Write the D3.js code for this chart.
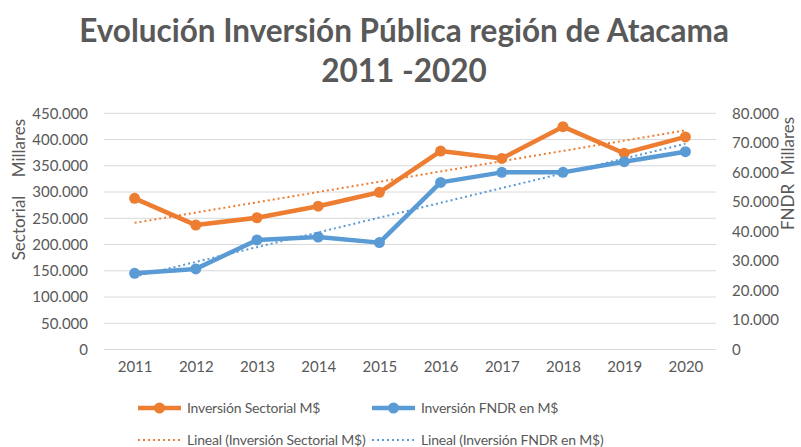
<!DOCTYPE html>
<html>
<head>
<meta charset="utf-8">
<script src="https://cdn.jsdelivr.net/npm/d3@7"></script>
<style>
  body { margin: 0; background: #fff; }
  svg { display: block; }
  text { font-family: Lato, "Open Sans", sans-serif; fill: #595959; }
</style>
</head>
<body>
<svg id="chart" width="801" height="447"></svg>
<script>
// data
const years = ["2011", "2012", "2013", "2014", "2015", "2016", "2017", "2018", "2019", "2020"];
const sectorial = [288000, 237000, 251000, 273000, 299500, 378000, 364000, 424500, 374000, 405000];
const fndr = [25800, 27300, 37100, 38100, 36200, 56600, 60000, 60000, 63600, 67000];
const leftTicks = [0, 50000, 100000, 150000, 200000, 250000, 300000, 350000, 400000, 450000];
const rightTicks = [0, 10000, 20000, 30000, 40000, 50000, 60000, 70000, 80000];

const orange = "#ED7D31";
const blue = "#5B9BD5";
const grey = "#595959";

const svg = d3.select("#chart");
const plot = { left: 104, right: 716, top: 113.3, bottom: 349.5 };

const x = d3.scalePoint().domain(years).range([plot.left, plot.right]).padding(0.5);
const yL = d3.scaleLinear().domain([0, 450000]).range([plot.bottom, plot.top]);
const yR = d3.scaleLinear().domain([0, 80000]).range([plot.bottom, plot.top]);

const fmt = d3.formatLocale({ decimal: ",", thousands: ".", grouping: [3], currency: ["$", ""] }).format(",");

// title
const title = svg.append("g").attr("font-weight", "bold");
const t1 = title.append("text")
  .attr("x", 404).attr("y", 42)
  .attr("text-anchor", "middle")
  .style("font-size", "30px")
  .text("Evolución Inversión Pública región de Atacama");
// shrink to about the width of the original title
const w1 = t1.node().getComputedTextLength();
const titleSize = 30 * 650 / w1;
t1.style("font-size", titleSize + "px");
title.append("text")
  .attr("x", 404).attr("y", 82)
  .attr("text-anchor", "middle")
  .style("font-size", titleSize + "px")
  .text("2011 -2020");

// gridlines
svg.append("g")
  .selectAll("line")
  .data(leftTicks)
  .join("line")
  .attr("x1", plot.left).attr("x2", plot.right)
  .attr("y1", d => yL(d)).attr("y2", d => yL(d))
  .attr("stroke", "#d9d9d9")
  .attr("stroke-width", 1);

// left axis
const axL = svg.append("g")
  .attr("transform", `translate(${plot.left - 16},0)`)
  .call(d3.axisLeft(yL).tickValues(leftTicks).tickFormat(fmt).tickSize(0).tickPadding(0));
axL.select(".domain").remove();
axL.selectAll("text").style("font-size", "15px").attr("fill", grey).attr("font-family", null);

// right axis
const axR = svg.append("g")
  .attr("transform", `translate(${plot.right + 16},0)`)
  .call(d3.axisRight(yR).tickValues(rightTicks).tickFormat(fmt).tickSize(0).tickPadding(0));
axR.select(".domain").remove();
axR.selectAll("text").style("font-size", "15px").attr("fill", grey).attr("font-family", null);

// x axis
const axX = svg.append("g")
  .attr("transform", `translate(0,${plot.bottom + 12})`)
  .call(d3.axisBottom(x).tickSize(0).tickPadding(0));
axX.select(".domain").remove();
axX.selectAll("text").style("font-size", "15px").attr("fill", grey).attr("font-family", null).attr("dy", "0.71em");

// axis titles (two words each, Excel leaves a wide gap)
const axisTitles = [
  { text: "Millares", x: 19, y: 148 },
  { text: "Sectorial", x: 19, y: 228 },
  { text: "Millares", x: 788, y: 146 },
  { text: "FNDR", x: 788, y: 207 }
];
svg.append("g").selectAll("text").data(axisTitles).join("text")
  .attr("transform", d => `translate(${d.x},${d.y}) rotate(-90)`)
  .attr("text-anchor", "middle")
  .attr("dy", "0.35em")
  .style("font-size", "17px")
  .text(d => d.text);

// series
function drawSeries(values, y, color) {
  const pts = values.map((v, i) => [x(years[i]), y(v)]);
  svg.append("path")
    .attr("d", d3.line()(pts))
    .attr("fill", "none")
    .attr("stroke", color)
    .attr("stroke-width", 4.5)
    .attr("stroke-linejoin", "round");
  svg.append("g")
    .selectAll("circle")
    .data(pts)
    .join("circle")
    .attr("cx", d => d[0]).attr("cy", d => d[1])
    .attr("r", 5.5)
    .attr("fill", color);
}

// least squares trendline (like Excel "Lineal")
function drawTrend(values, y, color) {
  const n = values.length;
  const xs = d3.range(1, n + 1);
  const mx = d3.mean(xs), my = d3.mean(values);
  const slope = d3.sum(xs, (xi, i) => (xi - mx) * (values[i] - my)) / d3.sum(xs, xi => (xi - mx) ** 2);
  const b = my - slope * mx;
  svg.append("path")
    .attr("d", d3.line()([[x(years[0]), y(b + slope)], [x(years[n - 1]), y(b + slope * n)]]))
    .attr("stroke", color)
    .attr("stroke-width", 2)
    .attr("stroke-dasharray", "2,3")
    .attr("fill", "none");
}

drawSeries(sectorial, yL, orange);
drawSeries(fndr, yR, blue);
drawTrend(sectorial, yL, orange);
drawTrend(fndr, yR, blue);

// legend
const legendItems = [
  { label: "Inversión Sectorial M$", color: orange, x: 138, y: 408, trend: false },
  { label: "Inversión FNDR en M$", color: blue, x: 372, y: 408, trend: false },
  { label: "Lineal (Inversión Sectorial M$)", color: orange, x: 138, y: 440, trend: true },
  { label: "Lineal (Inversión FNDR en M$)", color: blue, x: 372, y: 440, trend: true }
];
const lg = svg.append("g").selectAll("g").data(legendItems).join("g")
  .attr("transform", d => `translate(${d.x},${d.y})`);
lg.append("line")
  .attr("x1", 0).attr("x2", 43)
  .attr("stroke", d => d.color)
  .attr("stroke-width", d => d.trend ? 2 : 4.5)
  .attr("stroke-dasharray", d => d.trend ? "2,3" : null);
lg.filter(d => !d.trend).append("circle")
  .attr("cx", 21.5).attr("r", 5.5)
  .attr("fill", d => d.color);
lg.append("text")
  .attr("x", 49).attr("dy", "0.35em")
  .style("font-size", "14px")
  .style("letter-spacing", "-0.2px")
  .text(d => d.label);
</script>
</body>
</html>
